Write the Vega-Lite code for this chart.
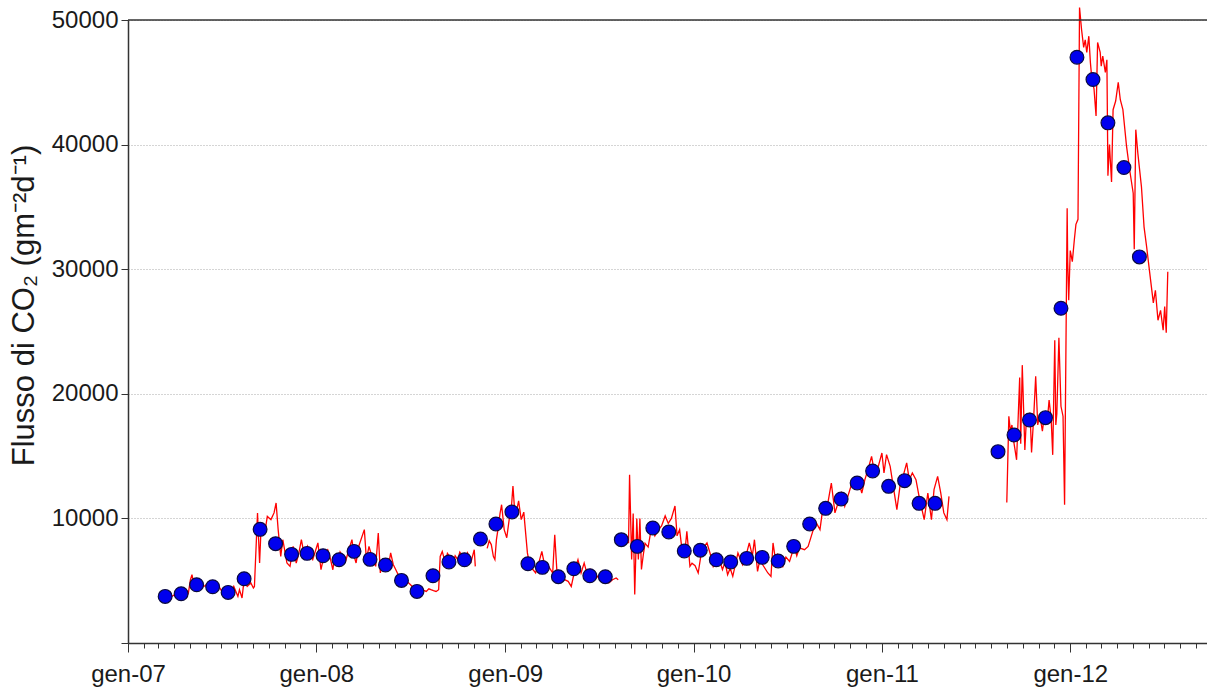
{
  "$schema": "https://vega.github.io/schema/vega-lite/v6.json",
  "width": 1079,
  "height": 623,
  "autosize": {"type": "none"},
  "padding": {"left": 128, "top": 20, "right": 0, "bottom": 47},
  "background": "white",
  "config": {"view": {"stroke": null}, "font": "Liberation Sans"},
  "datasets": {
    "punti": [
      {"d": "2007-03-14", "v": 3740}, {"d": "2007-04-14", "v": 3958}, {"d": "2007-05-14", "v": 4680}, {"d": "2007-06-14", "v": 4520},
      {"d": "2007-07-14", "v": 4062}, {"d": "2007-08-14", "v": 5162}, {"d": "2007-09-14", "v": 9120}, {"d": "2007-10-14", "v": 7972},
      {"d": "2007-11-14", "v": 7113}, {"d": "2007-12-14", "v": 7193}, {"d": "2008-01-14", "v": 7008}, {"d": "2008-02-14", "v": 6687},
      {"d": "2008-03-14", "v": 7354}, {"d": "2008-04-14", "v": 6711}, {"d": "2008-05-14", "v": 6262}, {"d": "2008-06-14", "v": 5025},
      {"d": "2008-07-14", "v": 4142}, {"d": "2008-08-14", "v": 5403}, {"d": "2008-09-14", "v": 6503}, {"d": "2008-10-14", "v": 6687},
      {"d": "2008-11-14", "v": 8349}, {"d": "2008-12-14", "v": 9553}, {"d": "2009-01-14", "v": 10517}, {"d": "2009-02-14", "v": 6366},
      {"d": "2009-03-14", "v": 6069}, {"d": "2009-04-14", "v": 5323}, {"d": "2009-05-14", "v": 5965}, {"d": "2009-06-14", "v": 5403},
      {"d": "2009-07-14", "v": 5323}, {"d": "2009-08-14", "v": 8293}, {"d": "2009-09-14", "v": 7755}, {"d": "2009-10-14", "v": 9232},
      {"d": "2009-11-14", "v": 8911}, {"d": "2009-12-14", "v": 7386}, {"d": "2010-01-14", "v": 7450}, {"d": "2010-02-14", "v": 6687},
      {"d": "2010-03-14", "v": 6503}, {"d": "2010-04-14", "v": 6792}, {"d": "2010-05-14", "v": 6872}, {"d": "2010-06-14", "v": 6583},
      {"d": "2010-07-14", "v": 7755}, {"d": "2010-08-14", "v": 9553}, {"d": "2010-09-14", "v": 10806}, {"d": "2010-10-14", "v": 11560},
      {"d": "2010-11-14", "v": 12845}, {"d": "2010-12-14", "v": 13808}, {"d": "2011-01-14", "v": 12572}, {"d": "2011-02-14", "v": 13030},
      {"d": "2011-03-14", "v": 11207}, {"d": "2011-04-14", "v": 11207}, {"d": "2011-08-14", "v": 15358}, {"d": "2011-09-14", "v": 16698},
      {"d": "2011-10-14", "v": 17902}, {"d": "2011-11-14", "v": 18087}, {"d": "2011-12-14", "v": 26862}, {"d": "2012-01-14", "v": 47012},
      {"d": "2012-02-14", "v": 45222}, {"d": "2012-03-14", "v": 41746}, {"d": "2012-04-14", "v": 38157}, {"d": "2012-05-14", "v": 30988}
    ],
    "linea": [
      {"d": "2007-03-10", "v": 3700, "s": 1}, {"d": "2007-03-14", "v": 3610, "s": 1}, {"d": "2007-03-20", "v": 3800, "s": 1}, {"d": "2007-03-27", "v": 3740, "s": 1},
      {"d": "2007-04-05", "v": 3950, "s": 1}, {"d": "2007-04-13", "v": 3880, "s": 1}, {"d": "2007-04-23", "v": 3610, "s": 1}, {"d": "2007-04-28", "v": 4010, "s": 1},
      {"d": "2007-05-02", "v": 5080, "s": 1}, {"d": "2007-05-05", "v": 5480, "s": 1}, {"d": "2007-05-09", "v": 4540, "s": 1}, {"d": "2007-05-15", "v": 4700, "s": 1},
      {"d": "2007-05-22", "v": 4820, "s": 1}, {"d": "2007-05-28", "v": 4540, "s": 1}, {"d": "2007-06-07", "v": 4820, "s": 1}, {"d": "2007-06-12", "v": 4600, "s": 1},
      {"d": "2007-06-19", "v": 4420, "s": 1}, {"d": "2007-06-26", "v": 4540, "s": 1}, {"d": "2007-07-02", "v": 4140, "s": 1}, {"d": "2007-07-09", "v": 4010, "s": 1},
      {"d": "2007-07-14", "v": 4200, "s": 1}, {"d": "2007-07-19", "v": 4010, "s": 1}, {"d": "2007-07-25", "v": 4540, "s": 1}, {"d": "2007-08-02", "v": 3740, "s": 1},
      {"d": "2007-08-05", "v": 4280, "s": 1}, {"d": "2007-08-10", "v": 3610, "s": 1}, {"d": "2007-08-14", "v": 5080, "s": 1}, {"d": "2007-08-20", "v": 4540, "s": 1},
      {"d": "2007-08-27", "v": 4820, "s": 1}, {"d": "2007-09-01", "v": 4420, "s": 1}, {"d": "2007-09-03", "v": 4540, "s": 1}, {"d": "2007-09-09", "v": 10440, "s": 1},
      {"d": "2007-09-13", "v": 6420, "s": 1}, {"d": "2007-09-16", "v": 9360, "s": 1}, {"d": "2007-09-20", "v": 8800, "s": 1}, {"d": "2007-09-24", "v": 9100, "s": 1},
      {"d": "2007-09-28", "v": 10160, "s": 1}, {"d": "2007-10-05", "v": 9900, "s": 1}, {"d": "2007-10-11", "v": 10440, "s": 1}, {"d": "2007-10-15", "v": 11240, "s": 1},
      {"d": "2007-10-19", "v": 9100, "s": 1}, {"d": "2007-10-24", "v": 6950, "s": 1}, {"d": "2007-10-28", "v": 8290, "s": 1}, {"d": "2007-11-05", "v": 6420, "s": 1},
      {"d": "2007-11-11", "v": 6150, "s": 1}, {"d": "2007-11-17", "v": 7750, "s": 1}, {"d": "2007-11-23", "v": 6420, "s": 1}, {"d": "2007-11-28", "v": 7200, "s": 1},
      {"d": "2007-12-03", "v": 8290, "s": 1}, {"d": "2007-12-09", "v": 6950, "s": 1}, {"d": "2007-12-15", "v": 7750, "s": 1}, {"d": "2007-12-20", "v": 7100, "s": 1},
      {"d": "2007-12-25", "v": 6690, "s": 1}, {"d": "2008-01-04", "v": 8030, "s": 1}, {"d": "2008-01-10", "v": 5880, "s": 1}, {"d": "2008-01-17", "v": 7230, "s": 1},
      {"d": "2008-01-23", "v": 7490, "s": 1}, {"d": "2008-01-28", "v": 6800, "s": 1}, {"d": "2008-02-02", "v": 5880, "s": 1}, {"d": "2008-02-06", "v": 7100, "s": 1},
      {"d": "2008-02-11", "v": 6420, "s": 1}, {"d": "2008-02-16", "v": 7300, "s": 1}, {"d": "2008-02-21", "v": 6950, "s": 1}, {"d": "2008-02-27", "v": 6600, "s": 1},
      {"d": "2008-03-04", "v": 7490, "s": 1}, {"d": "2008-03-10", "v": 8290, "s": 1}, {"d": "2008-03-14", "v": 7000, "s": 1}, {"d": "2008-03-18", "v": 6420, "s": 1},
      {"d": "2008-03-23", "v": 7750, "s": 1}, {"d": "2008-04-03", "v": 9100, "s": 1}, {"d": "2008-04-07", "v": 6690, "s": 1}, {"d": "2008-04-12", "v": 7750, "s": 1},
      {"d": "2008-04-18", "v": 6900, "s": 1}, {"d": "2008-04-25", "v": 6150, "s": 1}, {"d": "2008-04-30", "v": 8830, "s": 1}, {"d": "2008-05-04", "v": 5620, "s": 1},
      {"d": "2008-05-09", "v": 6700, "s": 1}, {"d": "2008-05-14", "v": 6420, "s": 1}, {"d": "2008-05-19", "v": 6000, "s": 1}, {"d": "2008-05-24", "v": 7230, "s": 1},
      {"d": "2008-05-29", "v": 6300, "s": 1}, {"d": "2008-06-03", "v": 5880, "s": 1}, {"d": "2008-06-09", "v": 5350, "s": 1}, {"d": "2008-06-14", "v": 5500, "s": 1},
      {"d": "2008-06-19", "v": 5080, "s": 1}, {"d": "2008-06-28", "v": 4820, "s": 1}, {"d": "2008-07-05", "v": 4540, "s": 1}, {"d": "2008-07-10", "v": 4400, "s": 1},
      {"d": "2008-07-14", "v": 4280, "s": 1}, {"d": "2008-07-19", "v": 4450, "s": 1}, {"d": "2008-07-24", "v": 4280, "s": 1}, {"d": "2008-08-01", "v": 4140, "s": 1},
      {"d": "2008-08-06", "v": 4350, "s": 1}, {"d": "2008-08-10", "v": 4280, "s": 1}, {"d": "2008-08-15", "v": 4200, "s": 1}, {"d": "2008-08-20", "v": 4140, "s": 1},
      {"d": "2008-08-25", "v": 4280, "s": 1}, {"d": "2008-08-28", "v": 6950, "s": 1}, {"d": "2008-09-01", "v": 7350, "s": 1}, {"d": "2008-09-07", "v": 6420, "s": 1},
      {"d": "2008-09-11", "v": 7200, "s": 1}, {"d": "2008-09-15", "v": 6950, "s": 1}, {"d": "2008-09-21", "v": 6280, "s": 1}, {"d": "2008-09-26", "v": 7000, "s": 1},
      {"d": "2008-10-01", "v": 6690, "s": 1}, {"d": "2008-10-05", "v": 7300, "s": 1}, {"d": "2008-10-10", "v": 6950, "s": 1}, {"d": "2008-10-15", "v": 6500, "s": 1},
      {"d": "2008-10-20", "v": 7230, "s": 1}, {"d": "2008-10-27", "v": 6550, "s": 1}, {"d": "2008-11-02", "v": 7490, "s": 1}, {"d": "2008-11-04", "v": 6150, "s": 1},
      {"d": "2008-11-27", "v": 7600, "s": 2}, {"d": "2008-12-01", "v": 8200, "s": 2}, {"d": "2008-12-05", "v": 7900, "s": 2}, {"d": "2008-12-09", "v": 6950, "s": 2},
      {"d": "2008-12-12", "v": 6700, "s": 2}, {"d": "2008-12-15", "v": 8300, "s": 2}, {"d": "2008-12-19", "v": 9400, "s": 2}, {"d": "2008-12-22", "v": 10400, "s": 2},
      {"d": "2008-12-25", "v": 11100, "s": 2}, {"d": "2008-12-30", "v": 9100, "s": 2}, {"d": "2009-01-04", "v": 8450, "s": 2}, {"d": "2009-01-09", "v": 10000, "s": 2},
      {"d": "2009-01-13", "v": 10900, "s": 2}, {"d": "2009-01-16", "v": 12600, "s": 2}, {"d": "2009-01-20", "v": 10200, "s": 2}, {"d": "2009-01-24", "v": 10800, "s": 2},
      {"d": "2009-01-27", "v": 11400, "s": 2}, {"d": "2009-02-01", "v": 9900, "s": 2}, {"d": "2009-02-06", "v": 10500, "s": 2}, {"d": "2009-02-09", "v": 9100, "s": 2},
      {"d": "2009-02-13", "v": 7230, "s": 2}, {"d": "2009-02-18", "v": 6150, "s": 2}, {"d": "2009-02-24", "v": 5880, "s": 2}, {"d": "2009-03-01", "v": 5620, "s": 2},
      {"d": "2009-03-07", "v": 6420, "s": 2}, {"d": "2009-03-13", "v": 7350, "s": 2}, {"d": "2009-03-20", "v": 5880, "s": 2}, {"d": "2009-03-26", "v": 6150, "s": 2},
      {"d": "2009-04-03", "v": 5620, "s": 2}, {"d": "2009-04-07", "v": 8690, "s": 2}, {"d": "2009-04-11", "v": 5880, "s": 2}, {"d": "2009-04-20", "v": 5350, "s": 2},
      {"d": "2009-04-26", "v": 5080, "s": 2}, {"d": "2009-05-03", "v": 4950, "s": 2}, {"d": "2009-05-09", "v": 4540, "s": 2}, {"d": "2009-05-16", "v": 5880, "s": 2},
      {"d": "2009-05-22", "v": 6690, "s": 2}, {"d": "2009-05-28", "v": 5620, "s": 2}, {"d": "2009-06-03", "v": 6420, "s": 2}, {"d": "2009-06-10", "v": 5350, "s": 2},
      {"d": "2009-06-16", "v": 5880, "s": 2}, {"d": "2009-06-23", "v": 5080, "s": 2}, {"d": "2009-06-29", "v": 5350, "s": 2}, {"d": "2009-07-06", "v": 4950, "s": 2},
      {"d": "2009-07-15", "v": 5100, "s": 2}, {"d": "2009-07-21", "v": 4820, "s": 2}, {"d": "2009-07-28", "v": 5080, "s": 2}, {"d": "2009-08-04", "v": 5220, "s": 2},
      {"d": "2009-08-08", "v": 5080, "s": 2},
      {"d": "2009-08-28", "v": 8000, "s": 3}, {"d": "2009-08-30", "v": 13500, "s": 3}, {"d": "2009-09-03", "v": 6700, "s": 3}, {"d": "2009-09-06", "v": 10400, "s": 3},
      {"d": "2009-09-09", "v": 3900, "s": 3}, {"d": "2009-09-13", "v": 10000, "s": 3}, {"d": "2009-09-16", "v": 6700, "s": 3}, {"d": "2009-09-19", "v": 10000, "s": 3},
      {"d": "2009-09-22", "v": 5900, "s": 3}, {"d": "2009-09-26", "v": 7200, "s": 3}, {"d": "2009-09-29", "v": 8000, "s": 3}, {"d": "2009-10-05", "v": 7700, "s": 3},
      {"d": "2009-10-12", "v": 9400, "s": 3}, {"d": "2009-10-18", "v": 8600, "s": 3}, {"d": "2009-10-25", "v": 9100, "s": 3}, {"d": "2009-10-31", "v": 9400, "s": 3},
      {"d": "2009-11-07", "v": 10200, "s": 3}, {"d": "2009-11-13", "v": 9600, "s": 3}, {"d": "2009-11-19", "v": 10000, "s": 3}, {"d": "2009-11-26", "v": 11000, "s": 3},
      {"d": "2009-11-30", "v": 8600, "s": 3}, {"d": "2009-12-05", "v": 9100, "s": 3}, {"d": "2009-12-09", "v": 7700, "s": 3}, {"d": "2009-12-15", "v": 7200, "s": 3},
      {"d": "2009-12-19", "v": 8960, "s": 3}, {"d": "2009-12-25", "v": 6150, "s": 3}, {"d": "2009-12-29", "v": 6400, "s": 3}, {"d": "2010-01-04", "v": 6200, "s": 3},
      {"d": "2010-01-10", "v": 5620, "s": 3}, {"d": "2010-01-17", "v": 7500, "s": 3}, {"d": "2010-01-27", "v": 8030, "s": 3}, {"d": "2010-02-02", "v": 7200, "s": 3},
      {"d": "2010-02-08", "v": 6150, "s": 3}, {"d": "2010-02-17", "v": 7090, "s": 3}, {"d": "2010-02-26", "v": 5880, "s": 3}, {"d": "2010-03-03", "v": 6500, "s": 3},
      {"d": "2010-03-08", "v": 5480, "s": 3}, {"d": "2010-03-13", "v": 6000, "s": 3}, {"d": "2010-03-18", "v": 5350, "s": 3}, {"d": "2010-03-28", "v": 7230, "s": 3},
      {"d": "2010-04-06", "v": 6280, "s": 3}, {"d": "2010-04-12", "v": 6900, "s": 3}, {"d": "2010-04-19", "v": 8030, "s": 3}, {"d": "2010-04-25", "v": 7000, "s": 3},
      {"d": "2010-04-29", "v": 8290, "s": 3}, {"d": "2010-05-05", "v": 5750, "s": 3}, {"d": "2010-05-10", "v": 6800, "s": 3}, {"d": "2010-05-15", "v": 6280, "s": 3},
      {"d": "2010-05-25", "v": 5620, "s": 3}, {"d": "2010-05-31", "v": 5350, "s": 3}, {"d": "2010-06-04", "v": 8030, "s": 3}, {"d": "2010-06-09", "v": 6600, "s": 3},
      {"d": "2010-06-13", "v": 7090, "s": 3}, {"d": "2010-06-23", "v": 6150, "s": 3}, {"d": "2010-06-29", "v": 6900, "s": 3}, {"d": "2010-07-06", "v": 6550, "s": 3},
      {"d": "2010-07-15", "v": 7750, "s": 3}, {"d": "2010-07-20", "v": 7000, "s": 3}, {"d": "2010-07-25", "v": 7630, "s": 3}, {"d": "2010-08-04", "v": 7490, "s": 3},
      {"d": "2010-08-11", "v": 7750, "s": 3}, {"d": "2010-08-20", "v": 8960, "s": 3}, {"d": "2010-08-27", "v": 9630, "s": 3}, {"d": "2010-09-03", "v": 9100, "s": 3},
      {"d": "2010-09-09", "v": 10970, "s": 3}, {"d": "2010-09-16", "v": 10700, "s": 3}, {"d": "2010-09-25", "v": 12840, "s": 3}, {"d": "2010-10-02", "v": 10440, "s": 3},
      {"d": "2010-10-08", "v": 11240, "s": 3}, {"d": "2010-10-15", "v": 12040, "s": 3}, {"d": "2010-10-21", "v": 10970, "s": 3}, {"d": "2010-10-31", "v": 12310, "s": 3},
      {"d": "2010-11-06", "v": 13110, "s": 3}, {"d": "2010-11-16", "v": 13110, "s": 3}, {"d": "2010-11-23", "v": 12040, "s": 3}, {"d": "2010-11-29", "v": 13110, "s": 3},
      {"d": "2010-12-05", "v": 13910, "s": 3}, {"d": "2010-12-12", "v": 14980, "s": 3}, {"d": "2010-12-19", "v": 13370, "s": 3}, {"d": "2010-12-25", "v": 14180, "s": 3},
      {"d": "2011-01-01", "v": 15250, "s": 3}, {"d": "2011-01-05", "v": 13650, "s": 3}, {"d": "2011-01-10", "v": 15120, "s": 3}, {"d": "2011-01-17", "v": 14180, "s": 3},
      {"d": "2011-01-24", "v": 12310, "s": 3}, {"d": "2011-01-30", "v": 10700, "s": 3}, {"d": "2011-02-05", "v": 12570, "s": 3}, {"d": "2011-02-11", "v": 13370, "s": 3},
      {"d": "2011-02-18", "v": 14450, "s": 3}, {"d": "2011-02-23", "v": 13110, "s": 3}, {"d": "2011-03-01", "v": 13650, "s": 3}, {"d": "2011-03-08", "v": 13110, "s": 3},
      {"d": "2011-03-14", "v": 11770, "s": 3}, {"d": "2011-03-24", "v": 9900, "s": 3}, {"d": "2011-03-31", "v": 12040, "s": 3}, {"d": "2011-04-07", "v": 9900, "s": 3},
      {"d": "2011-04-12", "v": 12310, "s": 3}, {"d": "2011-04-19", "v": 13370, "s": 3}, {"d": "2011-04-25", "v": 12040, "s": 3}, {"d": "2011-05-01", "v": 10440, "s": 3},
      {"d": "2011-05-07", "v": 9900, "s": 3}, {"d": "2011-05-11", "v": 11770, "s": 3},
      {"d": "2011-08-31", "v": 11270, "s": 4}, {"d": "2011-09-04", "v": 18200, "s": 4}, {"d": "2011-09-07", "v": 17000, "s": 4}, {"d": "2011-09-10", "v": 17500, "s": 4},
      {"d": "2011-09-13", "v": 16300, "s": 4}, {"d": "2011-09-19", "v": 14700, "s": 4}, {"d": "2011-09-25", "v": 21300, "s": 4}, {"d": "2011-09-27", "v": 16000, "s": 4},
      {"d": "2011-09-30", "v": 22300, "s": 4}, {"d": "2011-10-05", "v": 15500, "s": 4}, {"d": "2011-10-08", "v": 18000, "s": 4}, {"d": "2011-10-11", "v": 17400, "s": 4},
      {"d": "2011-10-15", "v": 18500, "s": 4}, {"d": "2011-10-18", "v": 15300, "s": 4}, {"d": "2011-10-22", "v": 18000, "s": 4}, {"d": "2011-10-26", "v": 21400, "s": 4},
      {"d": "2011-10-30", "v": 17500, "s": 4}, {"d": "2011-11-03", "v": 18300, "s": 4}, {"d": "2011-11-08", "v": 17000, "s": 4}, {"d": "2011-11-13", "v": 18600, "s": 4},
      {"d": "2011-11-17", "v": 17600, "s": 4}, {"d": "2011-11-21", "v": 19500, "s": 4}, {"d": "2011-11-25", "v": 18000, "s": 4}, {"d": "2011-11-28", "v": 15100, "s": 4},
      {"d": "2011-12-02", "v": 24300, "s": 4}, {"d": "2011-12-04", "v": 17500, "s": 4}, {"d": "2011-12-06", "v": 18400, "s": 4}, {"d": "2011-12-10", "v": 24500, "s": 4},
      {"d": "2011-12-14", "v": 19000, "s": 4}, {"d": "2011-12-18", "v": 18200, "s": 4}, {"d": "2011-12-21", "v": 11100, "s": 4}, {"d": "2011-12-26", "v": 34900, "s": 4},
      {"d": "2011-12-27", "v": 30700, "s": 4}, {"d": "2011-12-29", "v": 27500, "s": 4}, {"d": "2012-01-01", "v": 31500, "s": 4}, {"d": "2012-01-05", "v": 30600, "s": 4},
      {"d": "2012-01-09", "v": 32400, "s": 4}, {"d": "2012-01-12", "v": 33600, "s": 4}, {"d": "2012-01-16", "v": 34000, "s": 4}, {"d": "2012-01-19", "v": 51000, "s": 4},
      {"d": "2012-01-23", "v": 49200, "s": 4}, {"d": "2012-01-27", "v": 47800, "s": 4}, {"d": "2012-01-30", "v": 48400, "s": 4}, {"d": "2012-02-02", "v": 47400, "s": 4},
      {"d": "2012-02-06", "v": 48700, "s": 4}, {"d": "2012-02-09", "v": 46600, "s": 4}, {"d": "2012-02-12", "v": 45200, "s": 4}, {"d": "2012-02-16", "v": 44500, "s": 4},
      {"d": "2012-02-20", "v": 42300, "s": 4}, {"d": "2012-02-23", "v": 48200, "s": 4}, {"d": "2012-02-28", "v": 47400, "s": 4}, {"d": "2012-03-01", "v": 46300, "s": 4},
      {"d": "2012-03-04", "v": 47100, "s": 4}, {"d": "2012-03-09", "v": 45800, "s": 4}, {"d": "2012-03-12", "v": 46800, "s": 4}, {"d": "2012-03-14", "v": 37500, "s": 4},
      {"d": "2012-03-17", "v": 40000, "s": 4}, {"d": "2012-03-21", "v": 37000, "s": 4}, {"d": "2012-03-24", "v": 42800, "s": 4}, {"d": "2012-03-29", "v": 43500, "s": 4},
      {"d": "2012-04-03", "v": 45000, "s": 4}, {"d": "2012-04-07", "v": 43600, "s": 4}, {"d": "2012-04-12", "v": 42800, "s": 4}, {"d": "2012-04-19", "v": 39900, "s": 4},
      {"d": "2012-04-25", "v": 38000, "s": 4}, {"d": "2012-05-02", "v": 36100, "s": 4}, {"d": "2012-05-04", "v": 31600, "s": 4}, {"d": "2012-05-07", "v": 41200, "s": 4},
      {"d": "2012-05-11", "v": 39300, "s": 4}, {"d": "2012-05-18", "v": 36600, "s": 4}, {"d": "2012-05-23", "v": 33400, "s": 4}, {"d": "2012-05-28", "v": 31800, "s": 4},
      {"d": "2012-06-03", "v": 29700, "s": 4}, {"d": "2012-06-10", "v": 27300, "s": 4}, {"d": "2012-06-14", "v": 28300, "s": 4}, {"d": "2012-06-19", "v": 25900, "s": 4},
      {"d": "2012-06-24", "v": 26700, "s": 4}, {"d": "2012-06-29", "v": 25100, "s": 4}, {"d": "2012-07-02", "v": 27000, "s": 4}, {"d": "2012-07-05", "v": 24900, "s": 4},
      {"d": "2012-07-08", "v": 29800, "s": 4}
    ]
  },
  "layer": [
    {
      "data": {"name": "linea"},
      "mark": {"type": "line", "color": "#ff0000", "strokeWidth": 1.3},
      "encoding": {
        "x": {
          "field": "d", "type": "temporal",
          "scale": {"domain": [{"year": 2007, "month": 1, "date": 1}, {"year": 2012, "month": 9, "date": 22}]},
          "axis": {
            "title": null, "grid": false,
            "tickCount": {"interval": "month", "step": 1},
            "labelExpr": "month(datum.value) == 0 ? 'gen-' + timeFormat(datum.value, '%y') : ''",
            "tickSize": {"condition": {"test": "month(datum.value) == 0", "value": 9}, "value": 5},
            "labelOverlap": false, "labelFlush": false,
            "labelFontSize": 24, "labelColor": "#1a1a1a", "labelPadding": 10,
            "domainColor": "#333333", "domainWidth": 1.5, "tickColor": "#333333", "tickWidth": 1
          }
        },
        "y": {
          "field": "v", "type": "quantitative",
          "scale": {"domain": [0, 50000], "nice": false, "zero": true},
          "axis": {
            "title": "Flusso di CO₂ (gm⁻²d⁻¹)",
            "titleFontSize": 31, "titleFontWeight": "normal", "titleColor": "#1a1a1a", "titlePadding": 11,
            "titleY": 285,
            "values": [0, 10000, 20000, 30000, 40000, 50000],
            "labelExpr": "datum.value == 0 ? '' : format(datum.value, 'd')",
            "labelFontSize": 24, "labelColor": "#1a1a1a", "labelPadding": 3,
            "tickSize": 7, "tickColor": "#333333", "domainColor": "#333333", "domainWidth": 1.5,
            "grid": true, "gridColor": "#aaaaaa", "gridDash": [1, 2], "gridWidth": 1
          }
        },
        "detail": {"field": "s", "type": "nominal"}
      }
    },
    {
      "data": {"name": "punti"},
      "mark": {"type": "point", "filled": true, "fill": "#0000ee", "stroke": "#0a0a40", "strokeWidth": 1.2, "size": 190, "opacity": 1},
      "encoding": {
        "x": {"field": "d", "type": "temporal"},
        "y": {"field": "v", "type": "quantitative"}
      }
    },
    {
      "data": {"values": [{}]},
      "mark": {"type": "rule", "color": "#333333", "strokeWidth": 1.5},
      "encoding": {"y": {"datum": 50000, "type": "quantitative"}}
    }
  ]
}
